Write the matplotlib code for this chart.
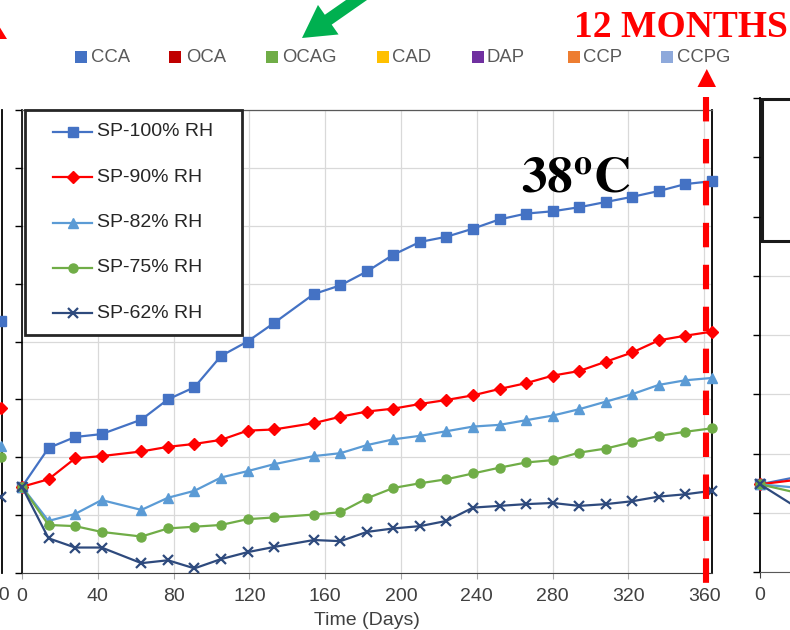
import matplotlib
matplotlib.use("Agg")
import matplotlib.pyplot as plt
from matplotlib.patches import Polygon, Rectangle, FancyArrow

plt.rcParams['font.family'] = ['Liberation Sans', 'DejaVu Sans']
plt.rcParams['mathtext.fontset'] = 'stix'
plt.rcParams['lines.scale_dashes'] = False

# ---------------- data ----------------
days = [0, 14, 28, 42, 63, 77, 91, 105, 119, 133, 154, 168, 182, 196,
        210, 224, 238, 252, 266, 280, 294, 308, 322, 336, 350, 364]

rh100 = [1.49, 2.16, 2.35, 2.40, 2.65, 3.00, 3.21, 3.75, 4.00, 4.32, 4.82, 4.97, 5.21,
         5.50, 5.72, 5.81, 5.95, 6.11, 6.21, 6.25, 6.32, 6.41, 6.50, 6.60, 6.72, 6.77]
rh90 = [1.49, 1.62, 1.98, 2.02, 2.10, 2.18, 2.23, 2.30, 2.46, 2.48, 2.59, 2.70, 2.79,
        2.84, 2.92, 2.99, 3.07, 3.18, 3.28, 3.41, 3.49, 3.65, 3.81, 4.02, 4.10, 4.17]
rh82 = [1.49, 0.90, 1.02, 1.26, 1.09, 1.30, 1.42, 1.65, 1.76, 1.88, 2.02, 2.07, 2.21,
        2.31, 2.37, 2.45, 2.53, 2.56, 2.64, 2.72, 2.83, 2.96, 3.09, 3.25, 3.33, 3.37]
rh75 = [1.49, 0.83, 0.81, 0.71, 0.63, 0.77, 0.80, 0.83, 0.93, 0.96, 1.01, 1.05, 1.29,
        1.47, 1.55, 1.62, 1.72, 1.82, 1.91, 1.95, 2.08, 2.15, 2.26, 2.37, 2.44, 2.50]
rh62 = [1.49, 0.60, 0.44, 0.44, 0.17, 0.22, 0.08, 0.24, 0.36, 0.45, 0.57, 0.55, 0.71,
        0.77, 0.81, 0.90, 1.13, 1.16, 1.19, 1.21, 1.16, 1.19, 1.24, 1.32, 1.36, 1.42]

series_labels = ['SP-100% RH', 'SP-90% RH', 'SP-82% RH', 'SP-75% RH', 'SP-62% RH']
x_ticks = [0, 40, 80, 120, 160, 200, 240, 280, 320, 360]

# neighbouring panels: last reading of the previous one, first readings of the next one
prev_day = [364]
prev_end = [4.35, 2.85, 2.20, 2.01, 1.32]
next_days = [0, 14]
next_vals = [[1.48, 1.61], [1.48, 1.56], [1.48, 1.42], [1.48, 1.33], [1.48, 1.07]]

mix_labels = ['CCA', 'OCA', 'OCAG', 'CAD', 'DAP', 'CCP', 'CCPG']

# ---------------- styles ----------------
colors = ['#4472C4', '#FF0000', '#5B9BD5', '#70AD47', '#2E4A7D']
markers = ['s', 'D', '^', 'o', 'x']
msizes = [6.5, 6.0, 7.5, 6.5, 7.5]
mix_colors = ['#4472C4', '#C00000', '#70AD47', '#FFC000', '#7030A0', '#ED7D31', '#8EA9DB']
mix_square_x = [75, 169, 266, 377, 472, 568, 661]
mix_text_x = [91, 186, 282, 392, 487, 583, 677]

W, H = 790, 630
fig = plt.figure(figsize=(W / 100, H / 100), dpi=100)


def px_rect(l, t, r, b):
    return [l / W, 1 - b / H, (r - l) / W, (b - t) / H]


def draw_series(axis, x, ys, **kw):
    for y, c, m, s in zip(ys, colors, markers, msizes):
        axis.plot(x, y, color=c, marker=m, ms=s, lw=1.6, mew=1.6 if m == 'x' else 1.0,
                  clip_on=False, zorder=3, **kw)


all_series = [rh100, rh90, rh82, rh75, rh62]

# ---------------- previous panel (right edge only) ----------------
axl = fig.add_axes(px_rect(-689, 110, 1.5, 573))
axl.set_xlim(0, 364.1)
axl.set_ylim(0, 8)
for i, v in enumerate(prev_end):
    axl.plot(prev_day, [v], color=colors[i], marker=markers[i], ms=msizes[i],
             mew=1.6 if markers[i] == 'x' else 1.0, clip_on=False, zorder=3)
for s in ['left', 'top', 'bottom']:
    axl.spines[s].set_visible(False)
axl.spines['right'].set_color('black')
axl.spines['right'].set_linewidth(1.3)
axl.set_xticks([360])
axl.set_yticks([])
axl.tick_params(axis='x', length=0, labelsize=14, labelcolor='#404040', pad=10)

# ---------------- main panel ----------------
ax = fig.add_axes(px_rect(22, 110, 712, 573))
draw_series(ax, days, all_series)
ax.set_xlim(0, 364.1)
ax.set_ylim(0, 8)
ax.set_xticks(x_ticks)
ax.set_yticks(range(9))
ax.set_yticklabels([])
ax.grid(color='#D9D9D9', lw=0.9)
ax.set_axisbelow(True)
ax.tick_params(axis='x', length=4, color='#A6A6A6', labelsize=14,
               labelcolor='#404040', pad=7)
ax.tick_params(axis='y', length=5, color='black', width=1)
ax.set_xlabel('Time (Days)', fontsize=14, color='#404040', labelpad=5)
ax.spines['left'].set_color('black')
ax.spines['left'].set_linewidth(1.2)
ax.spines['right'].set_color('black')
ax.spines['right'].set_linewidth(1.3)
ax.spines['bottom'].set_color('#404040')
ax.spines['top'].set_color('#595959')
ax.spines['top'].set_linewidth(0.9)

# ---------------- next panel (left edge only) ----------------
axr = fig.add_axes(px_rect(760, 98, 1450, 572))
for i, vals in enumerate(next_vals):
    axr.plot(next_days, vals, color=colors[i], marker=markers[i], ms=msizes[i],
             lw=1.6, mew=1.6 if markers[i] == 'x' else 1.0, zorder=3, clip_on=False)
axr.set_xlim(0, 250)
axr.set_ylim(0, 8)
axr.set_xticks([0])
axr.set_yticks(range(9))
axr.set_yticklabels([])
axr.grid(axis='y', color='#D9D9D9', lw=0.9)
axr.set_axisbelow(True)
axr.tick_params(axis='x', length=4, color='#404040', labelsize=14, labelcolor='#404040', pad=7)
axr.tick_params(axis='y', length=5, color='black', width=1)
axr.spines['left'].set_color('black')
axr.spines['left'].set_linewidth(1.3)
axr.spines['bottom'].set_color('#595959')
axr.spines['top'].set_visible(False)
axr.spines['right'].set_visible(False)

# ---------------- overlay in pixel coordinates ----------------
ov = fig.add_axes([0, 0, 1, 1])
ov.set_xlim(0, W)
ov.set_ylim(H, 0)
ov.axis('off')

# series legend box
ov.add_patch(Rectangle((25, 110), 217, 225, facecolor='white', edgecolor='#262626',
                       lw=2, zorder=5))
for i, lab in enumerate(series_labels):
    yy = 132 + 45.25 * i
    ov.plot([53, 92], [yy, yy], color=colors[i], lw=1.6, zorder=6)
    ov.plot([72.5], [yy], color=colors[i], marker=markers[i], ms=msizes[i],
            mew=1.6 if markers[i] == 'x' else 1.0, zorder=6)
    ov.text(97, yy, lab, fontsize=14, color='#262626', va='center', ha='left', zorder=6)

# next panel legend frame
ov.add_patch(Rectangle((762, 99), 45, 142, facecolor='white', edgecolor='#1a1a1a',
                       lw=2.2, zorder=5))

# mix legend across the top
for lab, c, sx, tx in zip(mix_labels, mix_colors, mix_square_x, mix_text_x):
    ov.add_patch(Rectangle((sx, 51), 12, 12, facecolor=c, edgecolor='none', zorder=5))
    ov.text(tx, 57.5, lab, fontsize=13.3, color='#595959', va='center', ha='left',
            zorder=5)

# temperature label
ov.text(576, 192, r'$\mathbf{38^{o}C}$', fontsize=37, ha='center', va='baseline',
        color='black', zorder=6)

# 12-month marker
ov.plot([706, 706], [97, 583], color='#FF0000', lw=4.4, dashes=(17.6, 12.6),
        solid_capstyle='butt', dash_capstyle='butt', zorder=7)
ov.add_patch(Polygon([(697.5, 87), (716, 87), (706.8, 69)], closed=True,
                     facecolor='#FF0000', edgecolor='none', zorder=7))
ov.text(788, 37, '12 MONTHS', fontsize=27, fontweight='bold', color='#FF0000',
        family=['Liberation Serif', 'DejaVu Serif'], ha='right', va='baseline', zorder=7)

# green pointer arrow
ov.add_patch(FancyArrow(368, -8, -66, 46, width=12, head_width=36, head_length=32,
                        length_includes_head=True, facecolor='#00B050',
                        edgecolor='none', zorder=7))

# red arrow head at the upper left
ov.add_patch(Polygon([(-9, 39), (7, 39), (-1, 26)], closed=True,
                     facecolor='#FF0000', edgecolor='none', zorder=7))

fig.savefig('out.png', dpi=100)
